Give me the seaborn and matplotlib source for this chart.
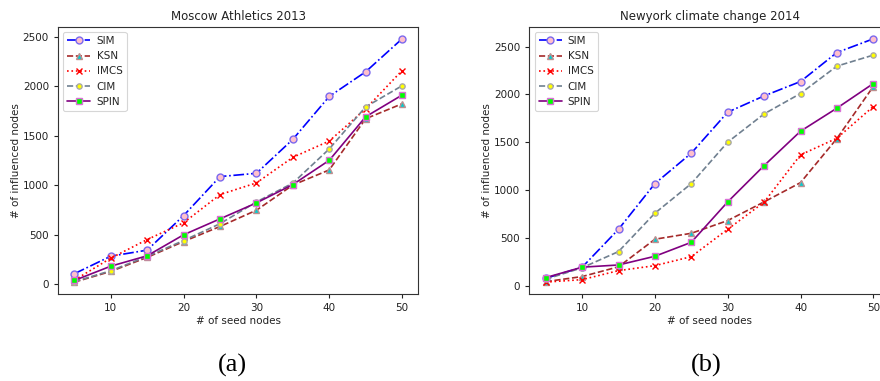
import matplotlib
matplotlib.use("Agg")
import matplotlib.pyplot as plt
import seaborn as sns
import pandas as pd

seeds = [5, 10, 15, 20, 25, 30, 35, 40, 45, 50]

# Moscow Athletics 2013
mos_sim = [105, 282, 343, 692, 1086, 1119, 1462, 1895, 2144, 2477]
mos_ksn = [20, 128, 270, 430, 582, 746, 1000, 1153, 1670, 1821]
mos_imcs = [40, 262, 450, 619, 904, 1022, 1280, 1445, 1770, 2157]
mos_cim = [25, 135, 280, 440, 610, 830, 1020, 1365, 1790, 2003]
mos_spin = [37, 181, 286, 498, 659, 820, 1005, 1250, 1690, 1909]

# Newyork climate change 2014
ny_sim = [80, 195, 592, 1069, 1387, 1815, 1985, 2135, 2438, 2581]
ny_ksn = [45, 98, 200, 488, 550, 683, 878, 1079, 1540, 2083]
ny_imcs = [40, 66, 160, 212, 306, 592, 875, 1369, 1543, 1874]
ny_cim = [70, 190, 359, 760, 1069, 1502, 1797, 2010, 2296, 2411]
ny_spin = [87, 196, 219, 310, 456, 878, 1257, 1616, 1857, 2114]

methods = ["SIM", "KSN", "IMCS", "CIM", "SPIN"]
titles = ["Moscow Athletics 2013", "Newyork climate change 2014"]
panel_tags = ["(a)", "(b)"]

styles = {
    "SIM": dict(color="blue", linestyle="-.", marker="o", markersize=5,
                markerfacecolor="pink", markeredgecolor="mediumslateblue"),
    "KSN": dict(color="brown", linestyle="--", marker="^", markersize=4.5,
                markerfacecolor="darkturquoise", markeredgecolor="rosybrown"),
    "IMCS": dict(color="red", linestyle=":", marker="x", markersize=4.5,
                 markerfacecolor="red", markeredgecolor="red"),
    "CIM": dict(color="slategray", linestyle="--", marker="o", markersize=3.8,
                markerfacecolor="yellow", markeredgecolor="darkgray"),
    "SPIN": dict(color="purple", linestyle="-", marker="s", markersize=5,
                 markerfacecolor="lime", markeredgecolor="orchid"),
}

panels = [
    dict(zip(methods, [mos_sim, mos_ksn, mos_imcs, mos_cim, mos_spin])),
    dict(zip(methods, [ny_sim, ny_ksn, ny_imcs, ny_cim, ny_spin])),
]

sns.set_style("ticks")
plt.rcParams["font.family"] = ["DejaVu Sans"]

fig = plt.figure(figsize=(8.8, 3.81), dpi=100)
axes = [
    fig.add_axes([0.0659, 0.2276, 0.4096, 0.7024]),
    fig.add_axes([0.6015, 0.2276, 0.4095, 0.7024]),
]

for ax, data, title in zip(axes, panels, titles):
    for m in methods:
        df = pd.DataFrame({"seeds": seeds, "influenced": data[m]})
        sns.lineplot(data=df, x="seeds", y="influenced", ax=ax, label=m,
                     linewidth=1.2, markeredgewidth=1.0, **styles[m])
    ax.set_title(title, fontsize=8.5, color="#222222", pad=5)
    ax.set_xlabel("# of seed nodes", fontsize=7.5, color="#222222", labelpad=2)
    ax.set_ylabel("# of influenced nodes", fontsize=7.5, color="#222222", labelpad=1.5)
    ax.set_xticks([10, 20, 30, 40, 50])
    ax.set_yticks([0, 500, 1000, 1500, 2000, 2500])
    ax.tick_params(labelsize=7.5, length=3, width=0.8, colors="#222222")
    for s in ax.spines.values():
        s.set_linewidth(0.8)
        s.set_color("#333333")
    leg = ax.legend(loc="upper left", fontsize=7.5, handlelength=2.2,
                    borderpad=0.4, labelspacing=0.5, handletextpad=0.6,
                    frameon=True, fancybox=True)
    leg.get_frame().set_edgecolor("#cccccc")
    leg.get_frame().set_linewidth(0.8)

for x, tag in zip([0.2636, 0.8023], panel_tags):
    fig.text(x, 0.042, tag, ha="center", va="center", fontsize=19,
             family=["Liberation Serif"], color="black")

fig.savefig("out.png", dpi=100)
